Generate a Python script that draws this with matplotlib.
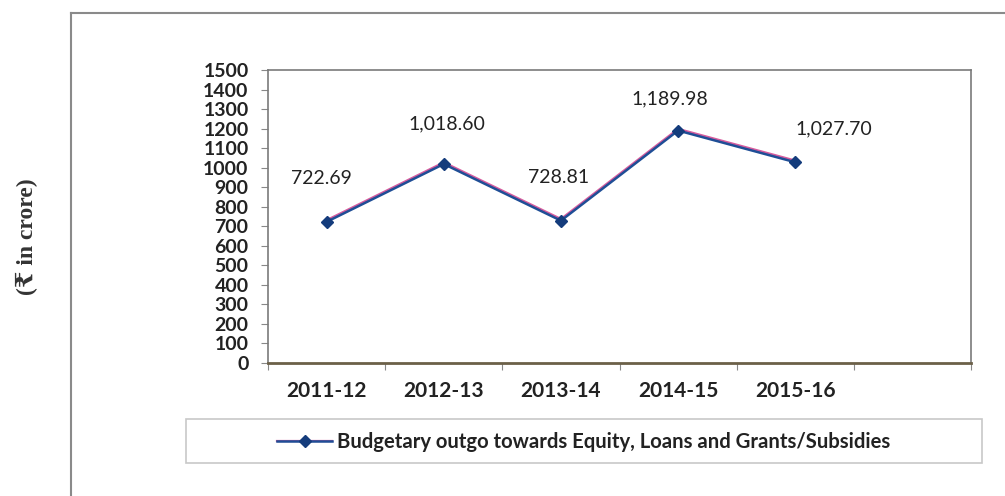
import matplotlib

matplotlib.use("Agg")
import matplotlib.pyplot as plt
import matplotlib.transforms as mtransforms
from matplotlib.legend_handler import HandlerTuple
from matplotlib.lines import Line2D
from matplotlib.patches import Rectangle

years = ["2011-12", "2012-13", "2013-14", "2014-15", "2015-16"]
outgo = [722.69, 1018.60, 728.81, 1189.98, 1027.70]
y_ticks = list(range(0, 1600, 100))
series_name = "Budgetary outgo towards Equity, Loans and Grants/Subsidies"

# label offsets (points) relative to each marker
label_offsets = [(-4, 31), (2, 29), (-2, 31), (-6, 23), (28, 24)]

BLUE = "#1f4e96"
PINK = "#d65c9e"
MARKER = "#143c7c"
TEXT = "#222222"

plt.rcParams["font.family"] = ["Lato", "DejaVu Sans"]

fig = plt.figure(figsize=(10.05, 4.96), dpi=100)
ax = fig.add_axes([0.2667, 0.2681, 0.6995, 0.5908])

x = list(range(len(years)))
pink_shift = mtransforms.offset_copy(ax.transData, fig=fig, x=0, y=1.2, units="points")
(pink_line,) = ax.plot(x, outgo, color=PINK, lw=1.6, transform=pink_shift, zorder=2)
(blue_line,) = ax.plot(x, outgo, color=BLUE, lw=1.8, marker="D", ms=6,
                       mfc=MARKER, mec=MARKER, zorder=3)

for xi, val, off in zip(x, outgo, label_offsets):
    ax.annotate(f"{val:,.2f}", (xi, val), xytext=off, textcoords="offset points",
                ha="center", va="center", fontsize=14, color=TEXT)

ax.set_xlim(-0.5, len(years) + 0.5)
ax.set_ylim(0, 1500)
ax.set_yticks(y_ticks)
ax.set_yticklabels([str(v) for v in y_ticks], fontsize=14, fontweight="bold", color=TEXT)
ax.set_xticks([i - 0.5 for i in range(len(years) + 2)])
ax.set_xticklabels([])
ax.set_xticks(x, minor=True)
ax.set_xticklabels(years, minor=True, fontsize=15, fontweight="bold", color=TEXT)
ax.tick_params(axis="x", which="minor", length=0, pad=13)
ax.tick_params(axis="x", which="major", length=5, color="#888888", direction="out")
ax.tick_params(axis="y", length=5, color="#888888", pad=9)

for side in ("top", "right", "left"):
    ax.spines[side].set_color("#7a7a7a")
    ax.spines[side].set_linewidth(1.2)
ax.spines["bottom"].set_color("#6b6048")
ax.spines["bottom"].set_linewidth(2)

# outer frame
fig.add_artist(Line2D([71 / 1005, 71 / 1005], [0, 1 - 13 / 496], color="#8a8a8a", lw=1.5))
fig.add_artist(Line2D([71 / 1005, 1], [1 - 13 / 496, 1 - 13 / 496], color="#8a8a8a", lw=1.5))

fig.text(27 / 1005, 1 - 237 / 496, "(\u20b9 in crore)", rotation=90, ha="center", va="center",
         fontsize=17, fontweight="bold", color="#333333",
         family=["Liberation Serif", "DejaVu Serif", "DejaVu Sans"])

# legend box
fig.add_artist(Rectangle((186 / 1005, 1 - 463 / 496), (982 - 186) / 1005, 44 / 496,
                         transform=fig.transFigure, fill=False, ec="#c8c8c8", lw=1.2))
fig.legend([(pink_line, blue_line)], [series_name], loc="center",
           bbox_to_anchor=(584 / 1005, 1 - 442 / 496), frameon=False,
           handler_map={tuple: HandlerTuple(ndivide=1)},
           prop={"size": 14.6, "weight": "bold"}, handlelength=2.7, handletextpad=0.25,
           labelcolor=TEXT)

fig.savefig("out.png", dpi=100)
